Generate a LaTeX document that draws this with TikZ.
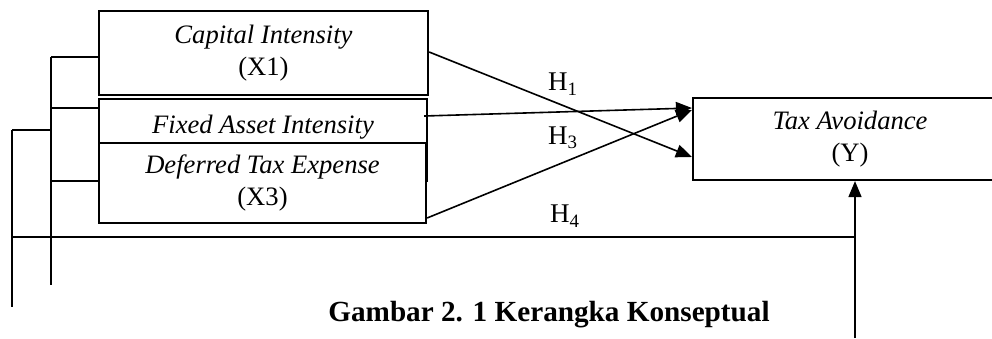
\documentclass[tikz,border=0pt]{standalone}
\usepackage{fontspec}
\setmainfont{Liberation Serif}
\usetikzlibrary{arrows.meta,positioning}

\begin{document}
\begin{tikzpicture}[x=0.5pt,y=-0.5pt,
  box/.style={draw,line width=1.1pt,fill=white,inner sep=0pt,align=center,
    font=\fontsize{13.3}{16}\selectfont\itshape},
  link/.style={line width=0.8pt},
  hyp/.style={line width=0.8pt,-{Triangle[length=8pt,width=6.5pt]}},
  hlabel/.style={font=\fontsize{13.5}{16}\selectfont}]
\useasboundingbox (0,0) rectangle (992,338);
% variable boxes
\node[box,minimum width=164.5pt,minimum height=42pt] (x1) at (263.5,53)
  {Capital Intensity\\\upshape(X1)};
\node[box,minimum width=164pt,minimum height=41pt] (x2) at (263,140) {};
\node[font=\fontsize{13.3}{16}\selectfont\itshape] (x2t) at (263,127) {Fixed Asset Intensity};
\node[box,minimum width=163.5pt,minimum height=40pt] (x3) at (262.5,183)
  {Deferred Tax Expense\\\upshape(X3)};
\node[box,minimum width=157pt,minimum height=41pt] (y) at (850,139)
  {Tax Avoidance\\\upshape(Y)};
% hypotheses
\draw[hyp] ([yshift=0.5pt]x1.east) -- ([yshift=-9pt]y.west);
\draw[hyp] ([xshift=-2pt,yshift=12pt]x2.east) -- ([yshift=15.5pt]y.west);
\draw[hyp] ([yshift=-17.5pt]x3.east) -- ([yshift=14.5pt]y.west);
\node[hlabel] (h1) at (563,84) {H\textsubscript{1}};
\node[hlabel] (h3) at (563,138) {H\textsubscript{3}};
\node[hlabel] (h4) at (565,216) {H\textsubscript{4}};
% brackets on the left
\coordinate (in1) at (51,57);
\coordinate (in2) at (51,285);
\coordinate (out1) at (12,130);
\coordinate (out2) at (12,307);
\coordinate (joint) at (855,237);
\coordinate (base) at (855,338);
\draw[link] (in1) -- (in2);
\draw[link] (in1) -- (in1 -| x1.west);
\draw[link] (51,108) -- (x1.west |- 0,108);
\draw[link] (51,181) -- (x3.west |- 0,181);
\draw[link] (out1) -- (out1 -| in1);
\draw[link] (out1) -- (out2);
\draw[link] (out1 |- joint) -- (joint);
\draw[hyp] (base) -- (base |- y.south);
% caption
\node[font=\fontsize{14.6}{17}\selectfont\bfseries] (cap) at (549,315)
  {Gambar 2. 1 Kerangka Konseptual};
\end{tikzpicture}
\end{document}
